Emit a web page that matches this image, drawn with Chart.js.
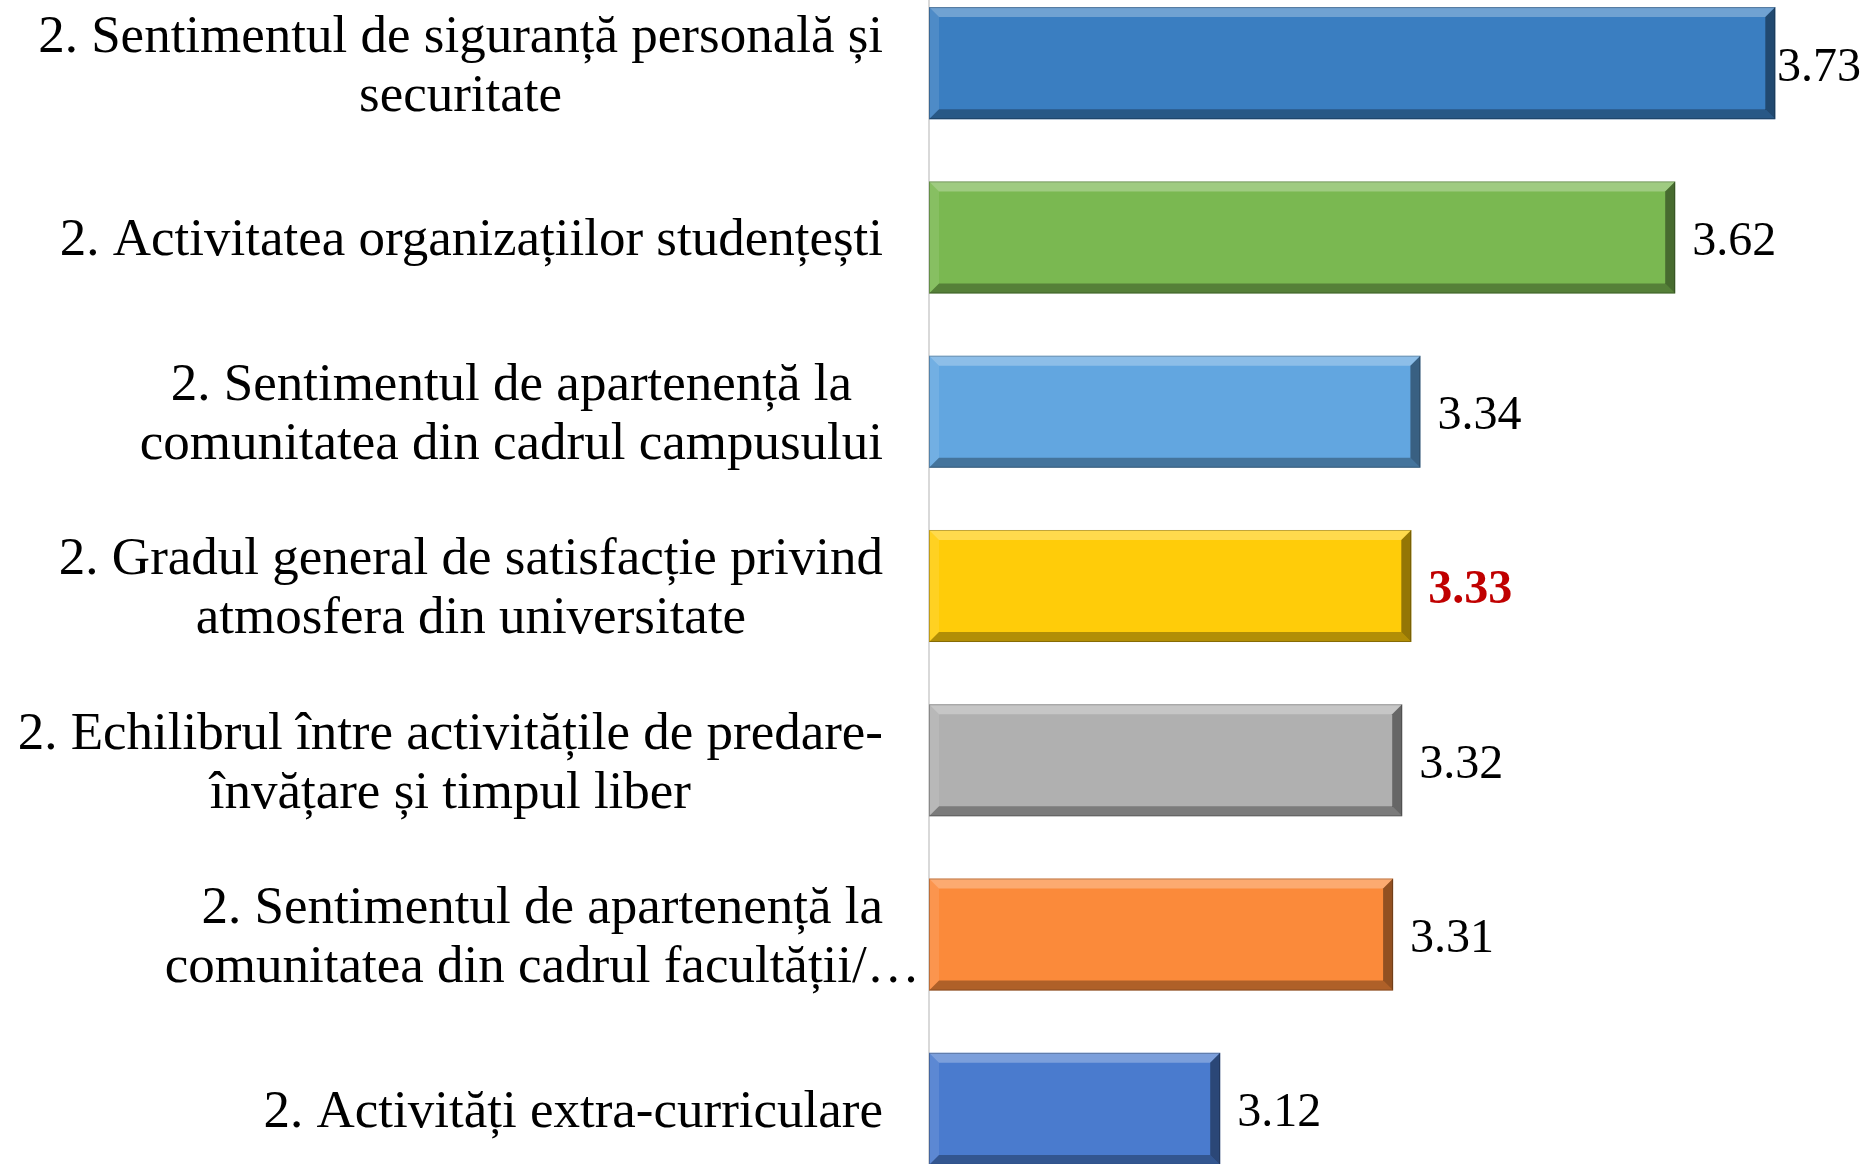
<!DOCTYPE html>
<html>
<head>
<meta charset="utf-8">
<script src="https://cdn.jsdelivr.net/npm/chart.js@4/dist/chart.umd.min.js"></script>
<style>
html, body { margin: 0; padding: 0; background: #fff; overflow: hidden; }
#wrap { position: absolute; left: 0; top: -24px; width: 1863px; height: 1220px; }
</style>
</head>
<body>
<div id="wrap"><canvas id="chart"></canvas></div>
<script>
// category labels (already wrapped like the original)
const categories = [
  ['2. Sentimentul de siguranță personală și', 'securitate'],
  ['2. Activitatea organizațiilor studențești'],
  ['2. Sentimentul de apartenență la', 'comunitatea din cadrul campusului'],
  ['2. Gradul general de satisfacție privind', 'atmosfera din universitate'],
  ['2. Echilibrul între activitățile de predare-', 'învățare și timpul liber'],
  ['2. Sentimentul de apartenență la', 'comunitatea din cadrul facultății/…'],
  ['2. Activități extra-curriculare']
];
const values = [3.73, 3.62, 3.34, 3.33, 3.32, 3.31, 3.12];
const barColors = ['#3A7EC1', '#7AB851', '#62A6E0', '#FFCC09', '#B0B0B0', '#FB8A3A', '#4A7BCE'];
const highlightIndex = 3; // the overall score, shown in bold red
const xMin = 2.8;
const xMax = 3.8;

const FONT = '"Liberation Serif", "Times New Roman", serif';

// draws the category labels: block right aligned, lines centered to each other
const categoryLabels = {
  id: 'categoryLabels',
  afterDraw(chart) {
    const ctx = chart.ctx;
    const yScale = chart.scales.y;
    const right = chart.chartArea.left - 46;
    const lineH = 59;
    ctx.save();
    ctx.font = '53px ' + FONT;
    ctx.fillStyle = '#000';
    ctx.textAlign = 'center';
    ctx.textBaseline = 'middle';
    chart.data.labels.forEach((lines, i) => {
      // truncated lines (ending in …) don't count for the block width
      const full = lines.filter(l => !l.endsWith('…'));
      const w = Math.max(...full.map(l => ctx.measureText(l).width));
      const cx = right - w / 2;
      const cy = yScale.getPixelForValue(i) + 4;
      lines.forEach((l, k) => {
        ctx.fillText(l, cx, cy + (k - (lines.length - 1) / 2) * lineH);
      });
    });
    ctx.restore();
  }
};

// bevel look of the bars + value labels
const barDecor = {
  id: 'barDecor',
  afterDatasetsDraw(chart) {
    const ctx = chart.ctx;
    const meta = chart.getDatasetMeta(0);
    ctx.save();
    meta.data.forEach((bar, i) => {
      const x0 = Math.max(bar.base, chart.chartArea.left), x1 = bar.x;
      const y0 = bar.y - bar.height / 2, y1 = bar.y + bar.height / 2;
      const b = 10;
      const quad = (pts, color) => {
        ctx.beginPath();
        ctx.moveTo(pts[0][0], pts[0][1]);
        for (let k = 1; k < pts.length; k++) ctx.lineTo(pts[k][0], pts[k][1]);
        ctx.closePath();
        ctx.fillStyle = color;
        ctx.fill();
      };
      quad([[x0, y0], [x1, y0], [x1 - b, y0 + b], [x0 + b, y0 + b]], 'rgba(255,255,255,0.28)');
      quad([[x0, y0], [x0 + b, y0 + b], [x0 + b, y1 - b], [x0, y1]], 'rgba(255,255,255,0.10)');
      quad([[x0, y1], [x0 + b, y1 - b], [x1 - b, y1 - b], [x1, y1]], 'rgba(0,0,0,0.30)');
      quad([[x1, y0], [x1, y1], [x1 - b, y1 - b], [x1 - b, y0 + b]], 'rgba(0,0,0,0.42)');
      ctx.strokeStyle = 'rgba(0,0,0,0.25)';
      ctx.lineWidth = 1;
      ctx.strokeRect(x0 + 0.5, y0 + 0.5, x1 - x0 - 1, y1 - y0 - 1);

      // value label
      const bold = i === highlightIndex;
      ctx.font = (bold ? 'bold ' : '') + '48px ' + FONT;
      ctx.fillStyle = bold ? '#C00000' : '#000';
      ctx.textAlign = 'left';
      ctx.textBaseline = 'middle';
      const txt = values[i].toFixed(2);
      const tw = ctx.measureText(txt).width;
      const tx = Math.min(x1 + 17, chart.width - tw - 2);
      ctx.fillText(txt, tx, bar.y + 5);
    });
    ctx.restore();
  }
};

new Chart(document.getElementById('chart'), {
  type: 'bar',
  data: {
    labels: categories,
    datasets: [{
      data: values,
      backgroundColor: barColors,
      borderWidth: 0,
      categoryPercentage: 1,
      barPercentage: 0.643
    }]
  },
  options: {
    indexAxis: 'y',
    responsive: true,
    maintainAspectRatio: false,
    animation: false,
    layout: { padding: { left: 0, right: 24, top: 0, bottom: 0 } },
    plugins: { legend: { display: false }, tooltip: { enabled: false } },
    scales: {
      x: { display: false, min: xMin, max: xMax },
      y: {
        grid: { display: false },
        border: { display: true, color: '#D9D9D9', width: 2 },
        ticks: { display: false },
        afterFit(scale) { scale.width = 929; }
      }
    }
  },
  plugins: [categoryLabels, barDecor]
});
</script>
</body>
</html>
